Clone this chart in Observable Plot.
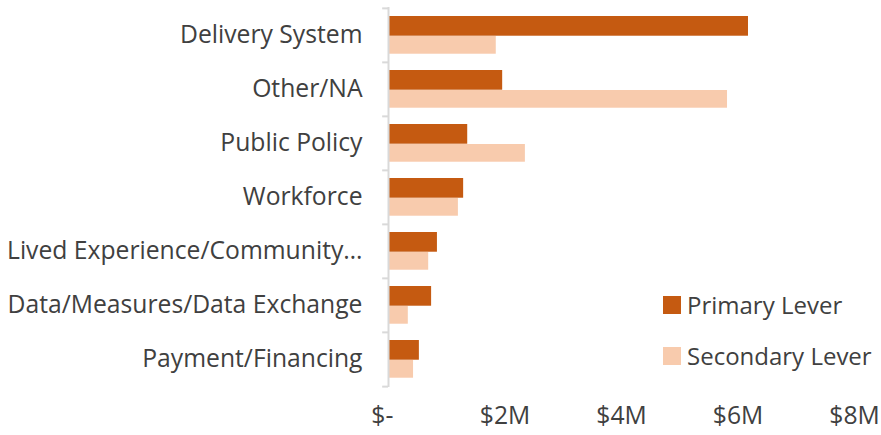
<!DOCTYPE html>
<html>
<head>
<meta charset="utf-8">
<script src="https://cdn.jsdelivr.net/npm/d3@7"></script>
<script src="https://cdn.jsdelivr.net/npm/@observablehq/plot@0.6"></script>
<style>
  body { margin: 0; background: #fff; }
  #wrap { position: relative; width: 881px; height: 435px; font-family: "Open Sans", sans-serif; color: #404040; }
  .legend { position: absolute; left: 663px; font-size: 24px; line-height: 1; }
  .legend .row { display: flex; align-items: center; position: absolute; white-space: nowrap; }
  .legend .sw { width: 18px; height: 18px; margin-right: 6px; }
</style>
</head>
<body>
<div id="wrap"></div>
<script>
const categories = ["Delivery System", "Other/NA", "Public Policy", "Workforce", "Lived Experience/Community…", "Data/Measures/Data Exchange", "Payment/Financing"];
const primaryValues = [6.18, 1.96, 1.36, 1.29, 0.84, 0.74, 0.53];   // $M
const secondaryValues = [1.85, 5.82, 2.35, 1.20, 0.69, 0.34, 0.43]; // $M
const seriesNames = ["Primary Lever", "Secondary Lever"];
const seriesColors = ["#C55A11", "#F8CBAD"];
const xTicks = [0, 2, 4, 6, 8];
const xTickLabels = ["$-", "$2M", "$4M", "$6M", "$8M"];

const primary = categories.map((c, i) => ({category: c, value: primaryValues[i] * 1e6}));
const secondary = categories.map((c, i) => ({category: c, value: secondaryValues[i] * 1e6}));

const W = 881, H = 435, mt = 7, mb = 48;
const step = (H - mt - mb) / categories.length;

const chart = Plot.plot({
  width: W,
  height: H,
  marginLeft: 388,
  marginRight: 27,
  marginTop: mt,
  marginBottom: mb,
  style: {fontFamily: "Open Sans, sans-serif", fontSize: "24.7px", color: "#404040", background: "#fff"},
  x: {domain: [0, 8e6], axis: null},
  y: {domain: categories, padding: 0, axis: null},
  marks: [
    Plot.barX(primary, {y: "category", x: "value", fill: seriesColors[0], insetTop: 8, insetBottom: step - 28}),
    Plot.barX(secondary, {y: "category", x: "value", fill: seriesColors[1], insetTop: 28, insetBottom: step - 46}),
    Plot.ruleY(categories, {y: d => d, x1: -0.1e6, x2: 0, dy: -step / 2, stroke: "#D9D9D9", strokeWidth: 2}),
    Plot.ruleY(categories.slice(-1), {y: d => d, x1: -0.1e6, x2: 0, dy: step / 2, stroke: "#D9D9D9", strokeWidth: 2}),
    Plot.ruleX([0], {stroke: "#D9D9D9", strokeWidth: 2}),
    Plot.axisY({tickSize: 0, tickPadding: 26, label: null, fill: "#404040"}),
    Plot.axisX({ticks: xTicks.map(v => v * 1e6), tickSize: 0, tickPadding: 19, label: null, fill: "#404040",
      tickFormat: (d) => { const i = xTicks.indexOf(d / 1e6); return i === 0 ? xTickLabels[i] + "\u2002" : xTickLabels[i]; }})
  ]
});

const wrap = document.getElementById("wrap");
wrap.appendChild(chart);

const legend = document.createElement("div");
legend.className = "legend";
legend.style.top = "0px";
const tops = [293, 344];
seriesNames.forEach((name, i) => {
  const row = document.createElement("div");
  row.className = "row";
  row.style.top = tops[i] + "px";
  const sw = document.createElement("span");
  sw.className = "sw";
  sw.style.background = seriesColors[i];
  const tx = document.createElement("span");
  tx.textContent = name;
  row.appendChild(sw);
  row.appendChild(tx);
  legend.appendChild(row);
});
wrap.appendChild(legend);
</script>
</body>
</html>
